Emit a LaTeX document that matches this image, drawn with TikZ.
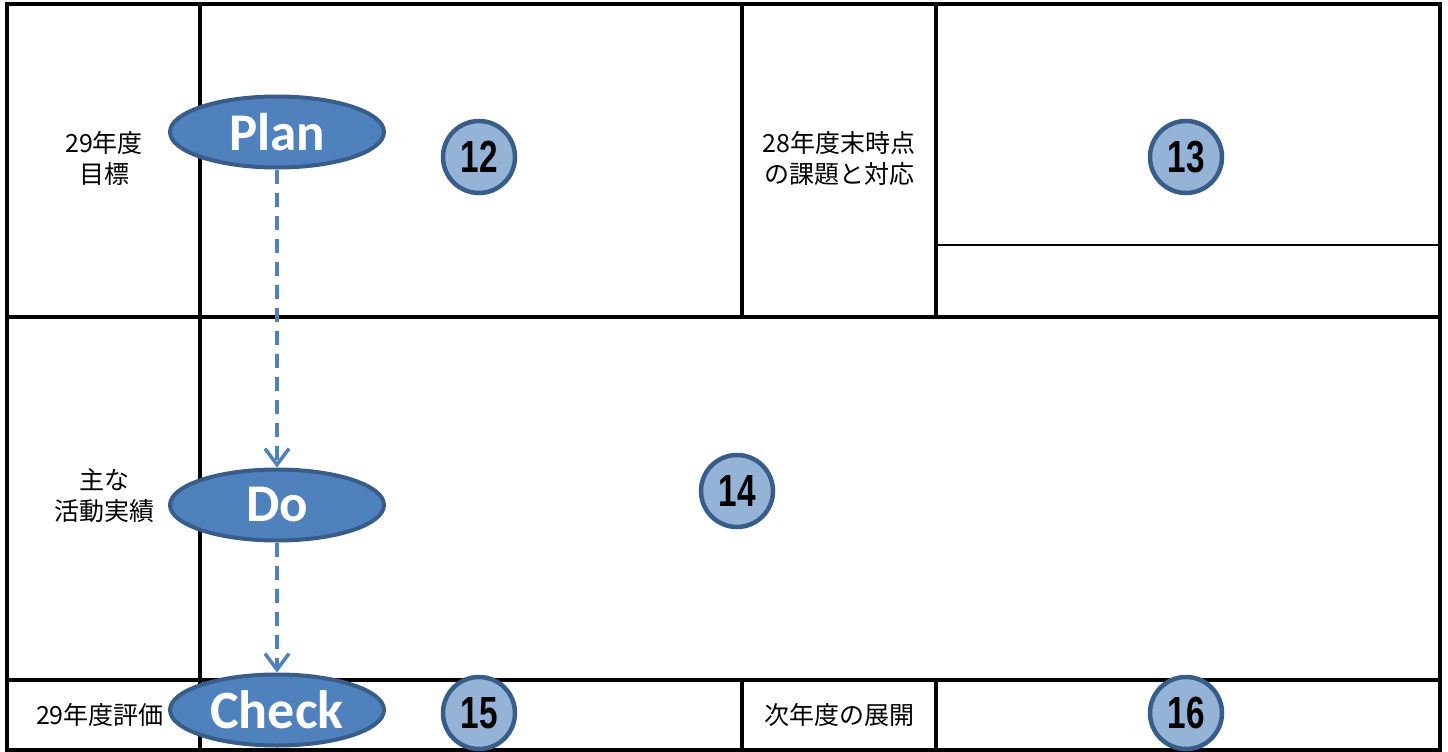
\documentclass[tikz,border=0pt]{standalone}
\usepackage{fontspec}
\setmainfont{Carlito}
\newfontfamily\jpfont{Noto Sans CJK JP}
\newfontfamily\numfont[FakeStretch=0.74]{Liberation Sans}
\usetikzlibrary{shapes.geometric,arrows.meta,positioning}
\definecolor{phasefill}{RGB}{79,129,189}
\definecolor{phaseline}{RGB}{56,93,138}
\definecolor{badgefill}{RGB}{149,179,215}

\begin{document}
\begin{tikzpicture}[x=1pt,y=-1pt,
	grid/.style={line width=3.5pt,line cap=rect},
	phase/.style={ellipse,draw=phaseline,fill=phasefill,line width=4pt,
		minimum width=214pt,minimum height=71pt,inner sep=0pt,
		text=white,font=\bfseries\fontsize{53}{53}\selectfont},
	badge/.style={circle,draw=phaseline,fill=badgefill,line width=4.5pt,
		minimum size=72pt,inner sep=0pt,font=\numfont\bfseries\fontsize{45}{45}\selectfont},
	label/.style={align=center,font=\jpfont\fontsize{25}{31}\selectfont},
	flow/.style={draw=phasefill,line width=4pt,dash pattern=on 14pt off 9pt,
		-{Straight Barb[length=16pt,width=24pt,line width=3.5pt]}}]
	\useasboundingbox (0,0) rectangle (1448,752);
	% table
	\draw[grid] (7,4) rectangle (1440,750);
	\draw[grid] (200,4) -- (200,750);
	\draw[grid] (7,317) -- (1440,317);
	\draw[grid] (7,680) -- (1440,680);
	\foreach \x in {742,936}
		\draw[grid] (\x,4) -- (\x,317) (\x,680) -- (\x,750);
	\draw[line width=1.2pt] (936,245) -- (1440,245);
	% row labels
	\node[label](goal) at (104,158){29年度\\目標};
	\node[label](issue) at (839,158){28年度末時点\\の課題と対応};
	\node[label](work) at (104,496){主な\\活動実績};
	\node[label](eval) at (100,715){29年度評価};
	\node[label](next) at (839,715){次年度の展開};
	% cycle
	\node[phase](plan) at (277,132){Plan};
	\node[phase](do)[below = 298pt of plan]{Do};
	\node[phase,font=\bfseries\fontsize{54}{54}\selectfont](check)[below = 130pt of do]{Check};
	\path[flow](plan) -- (do);
	\path[flow](do) -- (check);
	% numbers
	\node[badge](n12) at (479,157){12};
	\node[badge](n13) at (1186,157){13};
	\node[badge](n14) at (737,491){14};
	\node[badge](n15) at (479,713){15};
	\node[badge](n16) at (1186,713){16};
\end{tikzpicture}
\end{document}
